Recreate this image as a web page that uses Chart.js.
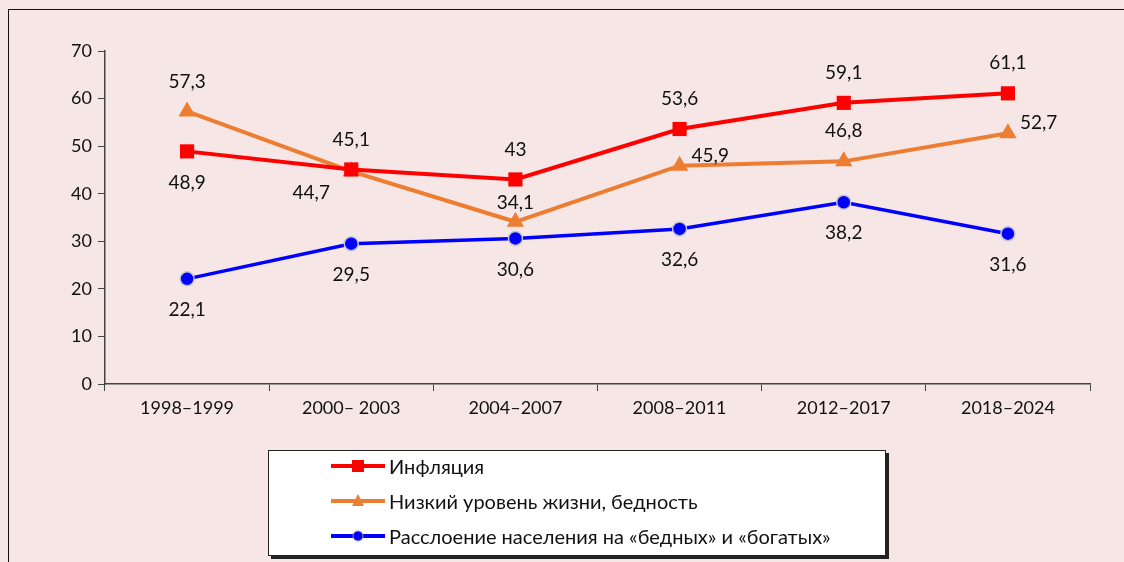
<!DOCTYPE html>
<html>
<head>
<meta charset="utf-8">
<script src="https://cdn.jsdelivr.net/npm/chart.js@4.4.1/dist/chart.umd.min.js"></script>
<style>
	body { margin: 0; background: #f6e6e6; font-family: Lato, 'Open Sans', sans-serif; }
	#wrap { position: relative; width: 1124px; height: 562px; overflow: hidden; }
	#frame { position: absolute; left: 8px; top: 9px; width: 1200px; height: 600px; border: 1.5px solid #111; }
	#legend {
		position: absolute; left: 268px; top: 450px; width: 616px; height: 104px;
		background: #fff; border: 1px solid #222; box-shadow: 3px 3px 0 #222;
	}
	.item { position: absolute; left: 62px; height: 22px; display: flex; align-items: center; font-size: 20px; color: #111; }
	.item canvas { margin-right: 4px; }
</style>
</head>
<body>
<div id="wrap">
	<div id="frame"></div>
	<canvas id="chart" width="1124" height="562"></canvas>
	<div id="legend"></div>
</div>
<script>
// Data
const periods = ['1998–1999', '2000– 2003', '2004–2007', '2008–2011', '2012–2017', '2018–2024'];
const inflation = [48.9, 45.1, 43, 53.6, 59.1, 61.1];
const poverty = [57.3, 44.7, 34.1, 45.9, 46.8, 52.7];
const inequality = [22.1, 29.5, 30.6, 32.6, 38.2, 31.6];
const yTicks = [0, 10, 20, 30, 40, 50, 60, 70];

// where each value label sits relative to its point
const inflationLabelPos = ['below', 'above', 'above', 'above', 'above', 'above'];
const povertyLabelPos = ['above', 'belowLeft', 'aboveNear', 'right', 'above', 'right'];
const inequalityLabelPos = ['below', 'below', 'below', 'below', 'below', 'below'];

function fmt(v) {
	return String(v).replace('.', ',');
}

const valueLabels = {
	id: 'valueLabels',
	afterDatasetsDraw(chart) {
		const ctx = chart.ctx;
		ctx.save();
		ctx.font = '19px Lato, "Open Sans", sans-serif';
		ctx.fillStyle = '#111';
		ctx.textBaseline = 'middle';
		chart.data.datasets.forEach((ds, i) => {
			const meta = chart.getDatasetMeta(i);
			meta.data.forEach((pt, j) => {
				const pos = ds.labelPos[j];
				let x = pt.x, y = pt.y;
				ctx.textAlign = 'center';
				if (pos === 'above') y -= 30;
				else if (pos === 'aboveNear') y -= 19;
				else if (pos === 'below') y += 31;
				else if (pos === 'right') { x += 12; y -= 10; ctx.textAlign = 'left'; }
				else if (pos === 'belowLeft') { x -= 40; y += 22; }
				ctx.fillText(fmt(ds.data[j]), x, y);
			});
		});
		ctx.restore();
	}
};

const ctx = document.getElementById('chart').getContext('2d');
const chart = new Chart(ctx, {
	type: 'line',
	data: {
		labels: periods,
		datasets: [
			{
				label: 'Инфляция',
				data: inflation,
				labelPos: inflationLabelPos,
				borderColor: '#ff0000',
				backgroundColor: '#ff0000',
				borderWidth: 4,
				pointStyle: 'rect',
				pointRadius: 10,
				pointBorderWidth: 0,
			},
			{
				label: 'Низкий уровень жизни, бедность',
				data: poverty,
				labelPos: povertyLabelPos,
				borderColor: '#ed7d31',
				backgroundColor: '#ed7d31',
				borderWidth: 4,
				pointStyle: 'triangle',
				pointRadius: 10,
				pointBorderWidth: 0,
			},
			{
				label: 'Расслоение населения на «бедных» и «богатых»',
				data: inequality,
				labelPos: inequalityLabelPos,
				borderColor: '#0000ff',
				backgroundColor: '#0000ff',
				borderWidth: 3.5,
				pointStyle: 'circle',
				pointRadius: 7,
				pointBorderColor: '#c4c4d0',
				pointBorderWidth: 1.5,
			},
		],
	},
	options: {
		responsive: false,
		animation: false,
		layout: { padding: { left: 0, top: 51, right: 34, bottom: 138 } },
		plugins: {
			legend: { display: false },
			tooltip: { enabled: false },
		},
		scales: {
			x: {
				offset: true,
				grid: { offset: true, drawOnChartArea: false, tickLength: 7, color: '#444' },
				border: { color: '#444', width: 1.5 },
				ticks: { color: '#111', font: { family: 'Lato', size: 18 }, padding: 6, maxRotation: 0 },
				afterFit(scale) { scale.height = 40; },
			},
			y: {
				min: 0,
				max: 70,
				afterBuildTicks(scale) { scale.ticks = yTicks.map((v) => ({ value: v })); },
				grid: { drawOnChartArea: false, tickLength: 7, color: '#444' },
				border: { color: '#444', width: 1.5 },
				ticks: { color: '#111', font: { family: 'Lato', size: 18 }, padding: 6 },
				afterFit(scale) { scale.width = 105; },
			},
		},
	},
	plugins: [valueLabels],
});

// Legend box
const legend = document.getElementById('legend');
chart.data.datasets.forEach((ds, i) => {
	const item = document.createElement('div');
	item.className = 'item';
	item.style.top = (4 + i * 35) + 'px';
	const c = document.createElement('canvas');
	c.width = 54; c.height = 20;
	const g = c.getContext('2d');
	g.strokeStyle = ds.borderColor;
	g.lineWidth = 4;
	g.beginPath(); g.moveTo(0, 10); g.lineTo(54, 10); g.stroke();
	g.fillStyle = ds.backgroundColor;
	if (ds.pointStyle === 'rect') g.fillRect(21, 4, 12, 12);
	else if (ds.pointStyle === 'triangle') {
		g.beginPath(); g.moveTo(27, 3); g.lineTo(33, 15); g.lineTo(21, 15); g.closePath(); g.fill();
	} else {
		g.beginPath(); g.arc(27, 10, 5, 0, Math.PI * 2); g.fill();
		g.strokeStyle = '#999'; g.lineWidth = 1; g.stroke();
	}
	item.appendChild(c);
	const t = document.createElement('span');
	t.textContent = ds.label;
	item.appendChild(t);
	legend.appendChild(item);
});
</script>
</body>
</html>
